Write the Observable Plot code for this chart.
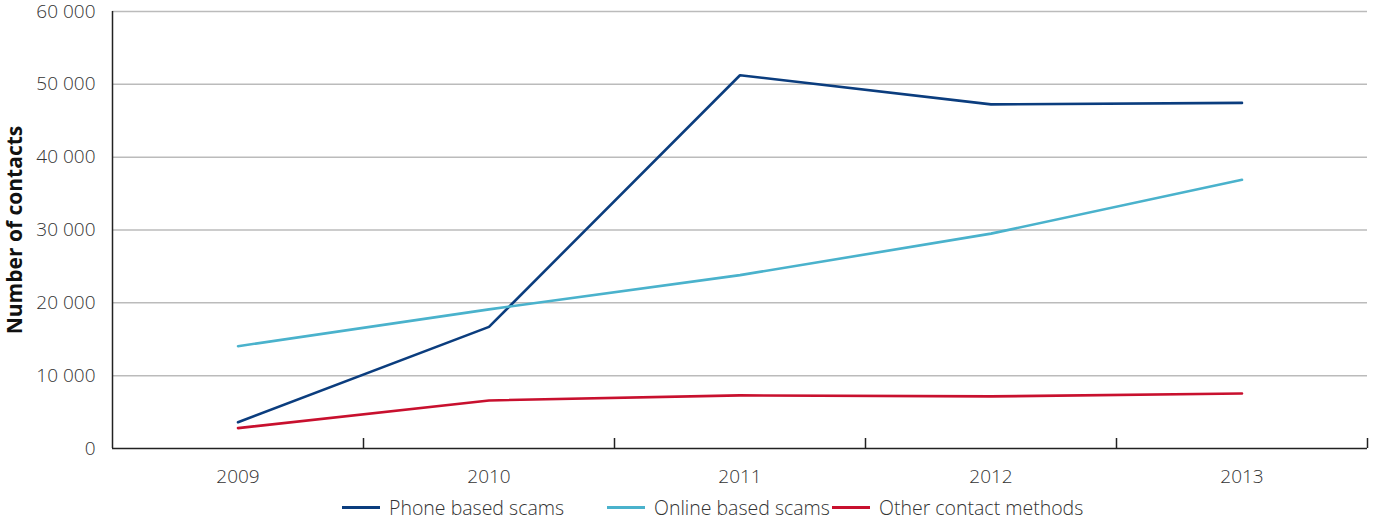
<!DOCTYPE html>
<html>
<head>
<meta charset="utf-8">
<script src="https://cdn.jsdelivr.net/npm/d3@7"></script>
<script src="https://cdn.jsdelivr.net/npm/@observablehq/plot@0.6"></script>
<style>
  body { margin: 0; background: #fff; font-family: "Open Sans", Lato, sans-serif; }
  #chart { margin-top: -4px; }
  #chart svg { display: block; overflow: visible; }
  #legend { position: relative; height: 31px; font-size: 19.5px; color: #333; font-weight: 300; }
  .item { position: absolute; top: 0; display: flex; align-items: center; height: 31px; white-space: nowrap; }
  .sw { width: 38px; height: 3px; margin-right: 9px; }
</style>
</head>
<body>
<div id="chart"></div>
<div id="legend"></div>
<script>
const years = [2009, 2010, 2011, 2012, 2013];
const seriesNames = ["Phone based scams", "Online based scams", "Other contact methods"];
const phone  = [3600, 16700, 51250, 47250, 47450];
const online = [14050, 19100, 23800, 29500, 36900];
const other  = [2800, 6600, 7300, 7150, 7550];
const colors = ["#0b3d7e", "#4ab2cc", "#c8102e"];
const yTicks = [0, 10000, 20000, 30000, 40000, 50000, 60000];

const rows = [];
[phone, online, other].forEach((vals, i) => {
  years.forEach((yr, j) => rows.push({ series: seriesNames[i], year: yr, value: vals[j] }));
});
const bounds = years.map(y => y + 0.5);
const fmt = d => d3.format(",")(d).replace(/,/g, " ");

const chart = Plot.plot({
  width: 1375,
  height: 496,
  marginLeft: 112,
  marginRight: 8,
  marginTop: 15,
  marginBottom: 44,
  style: { fontFamily: "'Open Sans', Lato, sans-serif", fontSize: "19px", color: "#333", fontWeight: 300 },
  x: { domain: [years[0] - 0.5, years[years.length - 1] + 0.5], axis: null },
  y: { domain: [0, 60000], axis: null },
  color: { domain: seriesNames, range: colors },
  marks: [
    Plot.ruleY(yTicks.filter(d => d > 0), { stroke: "#bbb", strokeWidth: 1.5 }),
    Plot.axisY({ ticks: yTicks, tickSize: 0, tickPadding: 17, tickFormat: fmt, label: null, fontSize: 19, fill: "#333" }),
    Plot.axisX({ ticks: years, tickSize: 0, tickPadding: 21, tickFormat: d => String(d), label: null, fontSize: 19, fill: "#333" }),
    Plot.ruleX(bounds, { stroke: "#222", strokeWidth: 1.5, insetTop: 427 }),
    Plot.ruleX([years[0] - 0.5], { stroke: "#222", strokeWidth: 1.5 }),
    Plot.ruleY([0], { stroke: "#222", strokeWidth: 1.5 }),
    Plot.line(rows, { x: "year", y: "value", z: "series", stroke: "series", strokeWidth: 2.6, strokeLinejoin: "miter" }),
    Plot.text(["Number of contacts"], { frameAnchor: "left", textAnchor: "middle", dx: -97, rotate: -90, fontSize: 21, fontWeight: "bold", fill: "#111" })
  ]
});
document.getElementById("chart").append(chart);

const lefts = [342, 607, 832];
const legend = document.getElementById("legend");
seriesNames.forEach((name, i) => {
  const it = document.createElement("div");
  it.className = "item";
  it.style.left = lefts[i] + "px";
  const sw = document.createElement("span");
  sw.className = "sw";
  sw.style.background = colors[i];
  const tx = document.createElement("span");
  tx.textContent = name;
  it.append(sw, tx);
  legend.append(it);
});
</script>
</body>
</html>
